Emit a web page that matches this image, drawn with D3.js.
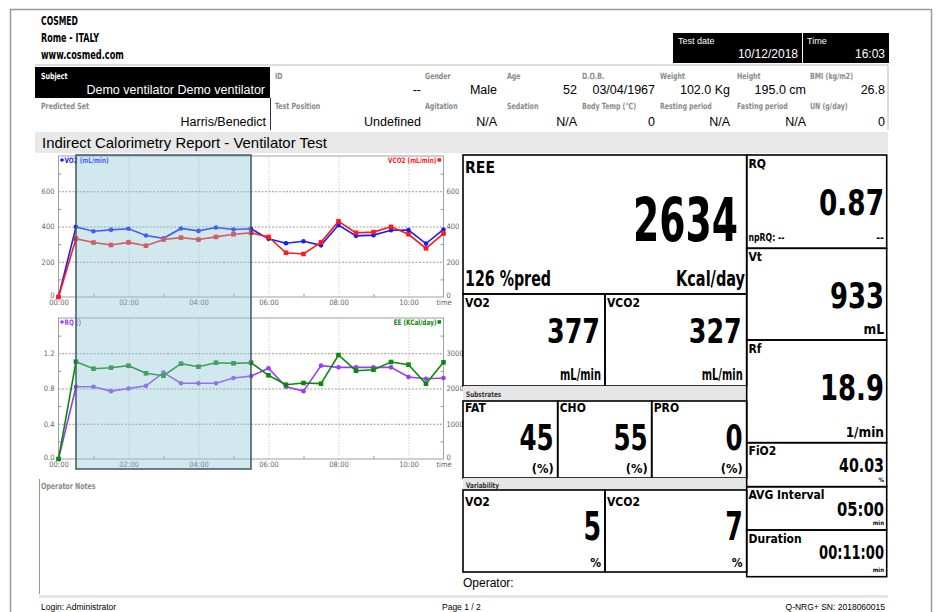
<!DOCTYPE html>
<html>
<head>
<meta charset="utf-8">
<script src="https://cdn.jsdelivr.net/npm/d3@7"></script>
<style>
  body { margin: 0; background: #fff; }
</style>
</head>
<body>
<svg id="page" width="939" height="612"></svg>
<script>
// ---- data ----
const company = ["COSMED", "Rome - ITALY", "www.cosmed.com"];
const testDate = ["Test date", "10/12/2018"];
const testTime = ["Time", "16:03"];
const subject = ["Subject", "Demo ventilator Demo ventilator"];
const predicted = ["Predicted Set", "Harris/Benedict"];
const row1Labels = ["ID", "Gender", "Age", "D.O.B.", "Weight", "Height", "BMI (kg/m2)"];
const row1Values = ["--", "Male", "52", "03/04/1967", "102.0 Kg", "195.0 cm", "26.8"];
const row2Labels = ["Test Position", "Agitation", "Sedation", "Body Temp (°C)", "Resting period", "Fasting period", "UN (g/day)"];
const row2Values = ["Undefined", "N/A", "N/A", "0", "N/A", "N/A", "0"];
const reportTitle = "Indirect Calorimetry Report - Ventilator Test";

// time in minutes for every sample
const minutes = [0, 0.5, 1, 1.5, 2, 2.5, 3, 3.5, 4, 4.5, 5, 5.5, 6, 6.5, 7, 7.5, 8, 8.5, 9, 9.5, 10, 10.5, 11];
const vo2  = [0, 398, 373, 381, 387, 349, 333, 389, 375, 394, 383, 387, 330, 305, 316, 293, 408, 347, 351, 379, 380, 303, 383];
const vco2 = [0, 331, 309, 295, 310, 291, 326, 337, 326, 341, 356, 364, 341, 251, 244, 310, 429, 364, 368, 398, 356, 276, 360];
const rq   = [0, 0.82, 0.82, 0.77, 0.80, 0.83, 0.98, 0.86, 0.86, 0.86, 0.92, 0.94, 1.03, 0.82, 0.77, 1.06, 1.04, 1.04, 1.04, 1.04, 0.93, 0.91, 0.92];
const ee   = [0, 2760, 2562, 2590, 2647, 2431, 2363, 2704, 2619, 2732, 2714, 2732, 2374, 2108, 2156, 2137, 2950, 2505, 2534, 2752, 2676, 2137, 2742];
const avgWindow = [0.5, 5.5];

const gasTicks = [0, 200, 400, 600];
const rqTicks = [0, 0.4, 0.8, 1.2];
const eeTicks = [0, 1000, 2000, 3000];
const timeTicks = [0, 2, 4, 6, 8, 10, 11];

const ree = ["REE", "2634", "126 %pred", "Kcal/day"];
const gasLabels = ["VO2", "VCO2"];
const gasValues = ["377", "327"];
const gasUnit = "mL/min";
const substrateLabels = ["FAT", "CHO", "PRO"];
const substrateValues = ["45", "55", "0"];
const variabilityValues = ["5", "7"];
const sideLabels = ["RQ", "Vt", "Rf", "FiO2", "AVG Interval", "Duration"];
const sideValues = ["0.87", "933", "18.9", "40.03", "05:00", "00:11:00"];
const sideUnits = ["--", "mL", "1/min", "%", "min", "min"];
const footer = ["Login: Administrator", "Page 1 / 2", "Q-NRG+ SN: 2018060015"];

// ---- helpers ----
const svg = d3.select("#page");
const COND = '"Liberation Sans Narrow","DejaVu Sans Condensed","Roboto Condensed",Roboto,sans-serif';
const ARIAL = 'Arial,"Liberation Sans",sans-serif';

// text; w = target width (squeezed horizontally), sq = squeeze factor
function txt(parent, x, y, s, o = {}) {
  const t = parent.append("text").attr("x", x).attr("y", y).text(s)
    .attr("font-family", o.font || ARIAL)
    .attr("font-size", o.size || 12)
    .attr("font-weight", o.bold ? "bold" : "normal")
    .attr("fill", o.fill || "#000")
    .attr("text-anchor", o.anchor || "start");
  if (o.w || o.sq) {
    const nat = t.node().getComputedTextLength();
    const k = o.w ? o.w / nat : o.sq;
    t.attr("x", 0).attr("y", 0)
      .attr("transform", `translate(${x},${y}) scale(${k.toFixed(4)},1)`);
  }
  return t;
}
function box(x0, y0, x1, y1, o = {}) {
  return svg.append("rect").attr("x", x0).attr("y", y0)
    .attr("width", x1 - x0).attr("height", y1 - y0)
    .attr("fill", o.fill || "none").attr("stroke", o.stroke || "none")
    .attr("stroke-width", o.sw || 1.5);
}

// page frame
svg.append("path").attr("d", "M10.5,612V9.5H931.5V612")
  .attr("fill", "none").attr("stroke", "#9a9a9a").attr("stroke-width", 1.5);

// ---- header ----
txt(svg, 41, 25, company[0], {font: COND, bold: true, size: 12.5, w: 37});
txt(svg, 41, 42, company[1], {font: COND, bold: true, size: 12.5, w: 58});
txt(svg, 41, 59, company[2], {font: COND, bold: true, size: 12.5, w: 83});

box(673, 33, 802, 63, {fill: "#000"});
box(803, 33, 889, 63, {fill: "#000"});
txt(svg, 678, 44, testDate[0], {size: 9, fill: "#fff"});
txt(svg, 798, 58, testDate[1], {size: 12, fill: "#fff", anchor: "end"});
txt(svg, 807, 44, testTime[0], {size: 9, fill: "#fff"});
txt(svg, 885, 58, testTime[1], {size: 12, fill: "#fff", anchor: "end"});

svg.append("line").attr("x1", 35).attr("x2", 888).attr("y1", 65).attr("y2", 65)
  .attr("stroke", "#ddd").attr("stroke-width", 2);
svg.append("line").attr("x1", 888).attr("x2", 888).attr("y1", 65).attr("y2", 130)
  .attr("stroke", "#bbb").attr("stroke-width", 1);
box(35, 67, 270, 98, {fill: "#000"});
svg.append("line").attr("x1", 270.5).attr("x2", 270.5).attr("y1", 98).attr("y2", 130)
  .attr("stroke", "#333").attr("stroke-width", 1);

const labStyle = {font: COND, bold: true, size: 8.5, fill: "#8a8a8a", sq: 0.82};
txt(svg, 41, 79, subject[0], Object.assign({}, labStyle, {fill: "#fff"}));
txt(svg, 265, 94, subject[1], {size: 12.5, fill: "#fff", anchor: "end"});
txt(svg, 41, 109, predicted[0], labStyle);
txt(svg, 266, 126, predicted[1], {size: 12.5, anchor: "end"});

const colLeft = [275, 425, 507, 582, 660, 737, 810];
const colRight = [421, 497, 577, 655, 730, 806, 885];
row1Labels.forEach((l, i) => {
  txt(svg, colLeft[i], 79, l, labStyle);
  txt(svg, colRight[i], 94, row1Values[i], {size: 12.5, anchor: "end"});
  txt(svg, colLeft[i], 109, row2Labels[i], labStyle);
  txt(svg, colRight[i], 126, row2Values[i], {size: 12.5, anchor: "end"});
});

box(35, 132, 888, 153, {fill: "#e8e8e8"});
txt(svg, 42, 148, reportTitle, {size: 15, w: 285});

// ---- charts ----
const x = d3.scaleLinear().domain([0, 11]).range([58.5, 443.5]);
const fmtMin = d => d === 11 ? "time" : d3.format("02d")(d) + ":00";

function styleAxis(a) {
  a.attr("font-family", COND).attr("font-size", 7.5);
  a.select(".domain").remove();
  a.selectAll("text").attr("fill", "#666");
  a.selectAll("line").attr("stroke", "#999");
}

function drawChart(c) {
  const g = svg.append("g");
  const yL = d3.scaleLinear().domain(c.leftDomain).range([c.bottom, c.top]);
  const yR = d3.scaleLinear().domain(c.rightDomain).range([c.bottom, c.top]);
  const w = x(11) - x(0), h = c.bottom - c.top;

  // grid
  g.append("g").attr("transform", `translate(0,${c.bottom})`)
    .call(d3.axisBottom(x).tickValues([2, 4, 6, 8, 10]).tickSize(-h).tickFormat(""))
    .call(styleAxis)
    .call(a => a.selectAll("line").attr("stroke", "#cfcfcf").attr("stroke-dasharray", "1.5,1.5"));
  g.append("g").attr("transform", `translate(${x(0)},0)`)
    .call(d3.axisLeft(yL).tickValues(c.leftTicks.slice(1)).tickSize(-w).tickFormat(""))
    .call(styleAxis)
    .call(a => a.selectAll("line").attr("stroke", "#9a9a9a").attr("stroke-dasharray", "2,1.5"));

  // frame
  g.append("rect").attr("x", x(0)).attr("y", c.top).attr("width", w).attr("height", h)
    .attr("fill", "none").attr("stroke", "#a0a0a0").attr("stroke-width", 1);

  // left axis labels + minor ticks
  g.append("g").attr("transform", `translate(${x(0)},0)`)
    .call(d3.axisLeft(yL).tickValues(c.leftTicks).tickSize(0).tickPadding(4).tickFormat(c.leftFmt))
    .call(styleAxis)
    .call(a => a.selectAll("text").filter(d => d === 0).attr("dy", "0.0em"));
  g.append("g").attr("transform", `translate(${x(0)},0)`)
    .call(d3.axisRight(yL).tickValues(c.leftMinor).tickSize(3).tickFormat(""))
    .call(styleAxis);

  // right axis labels + minor ticks
  g.append("g").attr("transform", `translate(${x(11)},0)`)
    .call(d3.axisRight(yR).tickValues(c.rightTicks).tickSize(0).tickPadding(3).tickFormat(c.rightFmt))
    .call(styleAxis)
    .call(a => a.selectAll("text").filter(d => d === 0).attr("dy", "0.0em"));
  g.append("g").attr("transform", `translate(${x(11)},0)`)
    .call(d3.axisLeft(yR).tickValues(c.rightMinor).tickSize(3).tickFormat(""))
    .call(styleAxis);

  // time axis
  g.append("g").attr("transform", `translate(0,${c.bottom})`)
    .call(d3.axisBottom(x).tickValues(timeTicks).tickSize(0).tickPadding(3).tickFormat(fmtMin))
    .call(styleAxis);
  g.append("g").attr("transform", `translate(0,${c.bottom})`)
    .call(d3.axisTop(x).tickValues([1, 3, 5, 7, 9]).tickSize(3).tickFormat(""))
    .call(styleAxis);

  // series
  c.series.forEach(s => {
    const y = s.side === "left" ? yL : yR;
    const pts = minutes.map((t, i) => [x(t), y(s.values[i])]);
    g.append("path").attr("d", d3.line()(pts))
      .attr("fill", "none").attr("stroke", s.color).attr("stroke-width", 1.6);
    if (s.marker === "circle") {
      g.selectAll(null).data(pts).join("circle")
        .attr("cx", d => d[0]).attr("cy", d => d[1]).attr("r", 2.3).attr("fill", s.color);
    } else {
      g.selectAll(null).data(pts).join("rect")
        .attr("x", d => d[0] - 2.3).attr("y", d => d[1] - 2.3)
        .attr("width", 4.6).attr("height", 4.6).attr("fill", s.color);
    }
  });

  // legends
  const lg = c.series[0], rg = c.series[1];
  const ly = c.top + 6.5;
  if (lg.marker === "circle") g.append("circle").attr("cx", x(0) + 3.5).attr("cy", ly - 2.5).attr("r", 1.8).attr("fill", lg.color);
  else g.append("rect").attr("x", x(0) + 1.8).attr("y", ly - 4.3).attr("width", 3.5).attr("height", 3.5).attr("fill", lg.color);
  txt(g, x(0) + 6, ly, lg.name, {font: COND, bold: true, size: 7.5, fill: lg.color, sq: 0.85});
  g.append("rect").attr("x", x(11) - 6).attr("y", ly - 4.3).attr("width", 3.5).attr("height", 3.5).attr("fill", rg.color);
  txt(g, x(11) - 7, ly, rg.name, {font: COND, bold: true, size: 7.5, fill: rg.color, anchor: "end", sq: 0.85});
}

drawChart({
  top: 156, bottom: 297,
  leftDomain: [0, 800], rightDomain: [0, 800],
  leftTicks: gasTicks, rightTicks: gasTicks,
  leftMinor: [100, 300, 500, 700], rightMinor: [100, 300, 500, 700],
  leftFmt: d3.format("d"), rightFmt: d3.format("d"),
  series: [
    {name: "VO2 (mL/min)", values: vo2, side: "left", color: "#1a1aff", marker: "circle"},
    {name: "VCO2 (mL/min)", values: vco2, side: "right", color: "#ff1a1a", marker: "square"}
  ]
});
drawChart({
  top: 318, bottom: 459,
  leftDomain: [0, 1.6], rightDomain: [0, 4000],
  leftTicks: rqTicks, rightTicks: eeTicks,
  leftMinor: [0.2, 0.6, 1.0, 1.4], rightMinor: [500, 1500, 2500, 3500],
  leftFmt: d3.format(".1f"), rightFmt: d3.format("d"),
  series: [
    {name: "RQ ()", values: rq, side: "left", color: "#9a3cf5", marker: "circle"},
    {name: "EE (KCal/day)", values: ee, side: "right", color: "#0a8a0a", marker: "square"}
  ]
});

// averaging window overlay
svg.append("rect")
  .attr("x", x(avgWindow[0])).attr("y", 155)
  .attr("width", x(avgWindow[1]) - x(avgWindow[0])).attr("height", 469 - 155)
  .attr("fill", "#8cc6d8").attr("fill-opacity", 0.4)
  .attr("stroke", "#3d5863").attr("stroke-width", 1.5);

// operator notes
svg.append("line").attr("x1", 39.5).attr("x2", 39.5).attr("y1", 479).attr("y2", 594)
  .attr("stroke", "#999").attr("stroke-width", 1);
txt(svg, 41, 489, "Operator Notes", labStyle);
svg.append("line").attr("x1", 39).attr("x2", 888).attr("y1", 596.5).attr("y2", 596.5)
  .attr("stroke", "#e6e6e6").attr("stroke-width", 3);

// ---- metric panels ----
const BIG = {font: COND, bold: true};
const cellStroke = {stroke: "#000", sw: 1.6};

// REE
box(463, 155, 746.7, 294, cellStroke);
txt(svg, 465, 173, ree[0], Object.assign({size: 15, w: 30}, BIG));
txt(svg, 738, 241, ree[1], Object.assign({size: 60, w: 105, anchor: "end"}, BIG));
txt(svg, 465, 286, ree[2], Object.assign({size: 22, w: 86}, BIG));
txt(svg, 745, 286, ree[3], Object.assign({size: 22, w: 69, anchor: "end"}, BIG));

// VO2 / VCO2
const gasX = [[463, 605], [605, 746.7]];
gasLabels.forEach((l, i) => {
  const [x0, x1] = gasX[i];
  box(x0, 294, x1, 386, cellStroke);
  txt(svg, x0 + 2, 307, l, Object.assign({size: 12}, BIG));
  txt(svg, x1 - 5, 343, gasValues[i], Object.assign({size: 33, w: 53, anchor: "end"}, BIG));
  txt(svg, x1 - 4, 380, gasUnit, Object.assign({size: 15, w: 41, anchor: "end"}, BIG));
});

// Substrates
box(463, 386, 746.7, 401, {fill: "#e6e6e6"});
txt(svg, 466, 397, "Substrates", {font: COND, bold: true, size: 7.5, fill: "#333", sq: 0.85});
const subX = [[463, 557.7], [557.7, 651.7], [651.7, 746.7]];
substrateLabels.forEach((l, i) => {
  const [x0, x1] = subX[i];
  box(x0, 401, x1, 478, cellStroke);
  txt(svg, x0 + 2, 412, l, Object.assign({size: 12}, BIG));
  txt(svg, x1 - 4, 450, substrateValues[i], Object.assign({size: 35, anchor: "end", sq: 0.78}, BIG));
  txt(svg, x1 - 4, 473, "(%)", Object.assign({size: 13, w: 22, anchor: "end"}, BIG));
});

// Variability
box(463, 478, 746.7, 490, {fill: "#e6e6e6"});
txt(svg, 466, 487.5, "Variability", {font: COND, bold: true, size: 7.5, fill: "#333", sq: 0.85});
gasLabels.forEach((l, i) => {
  const [x0, x1] = gasX[i];
  box(x0, 490, x1, 572, cellStroke);
  txt(svg, x0 + 2, 506, l, Object.assign({size: 12}, BIG));
  txt(svg, x1 - 4, 540, variabilityValues[i], Object.assign({size: 39, anchor: "end", sq: 0.72}, BIG));
  txt(svg, x1 - 4, 567, "%", Object.assign({size: 12, anchor: "end"}, BIG));
});

txt(svg, 463, 587, "Operator:", {size: 12});

// right column
const sideY = [155, 248.3, 340, 442.7, 486.7, 530, 576.7];
const sideBig = [true, true, true, false, false, false];
const sideW = [65, 54, 64, 45, 47, 65];
sideLabels.forEach((l, i) => {
  const y0 = sideY[i], y1 = sideY[i + 1];
  box(746.7, y0, 886.7, y1, cellStroke);
  txt(svg, 748.5, y0 + 12.5, l, Object.assign({size: 12}, BIG));
  if (sideBig[i]) {
    txt(svg, 884, y0 + 60, sideValues[i], Object.assign({size: 36, w: sideW[i], anchor: "end"}, BIG));
  } else {
    txt(svg, 884, y0 + 29, sideValues[i], Object.assign({size: 19, w: sideW[i], anchor: "end"}, BIG));
  }
  if (i === 0) {
    txt(svg, 748.5, y1 - 7.5, "npRQ: --", Object.assign({size: 10.5, w: 36}, BIG));
    txt(svg, 884, y1 - 7.5, sideUnits[i], Object.assign({size: 10.5, anchor: "end"}, BIG));
  } else if (sideBig[i]) {
    txt(svg, 884, y1 - 6, sideUnits[i], Object.assign({size: 13.5, anchor: "end"}, BIG));
  } else {
    txt(svg, 884, y1 - 5, sideUnits[i], Object.assign({size: 6, anchor: "end"}, BIG));
  }
});

// footer
txt(svg, 41, 610, footer[0], {size: 8.5});
txt(svg, 442, 610, footer[1], {size: 8.5});
txt(svg, 885, 610, footer[2], {size: 8.5, anchor: "end"});
</script>
</body>
</html>
